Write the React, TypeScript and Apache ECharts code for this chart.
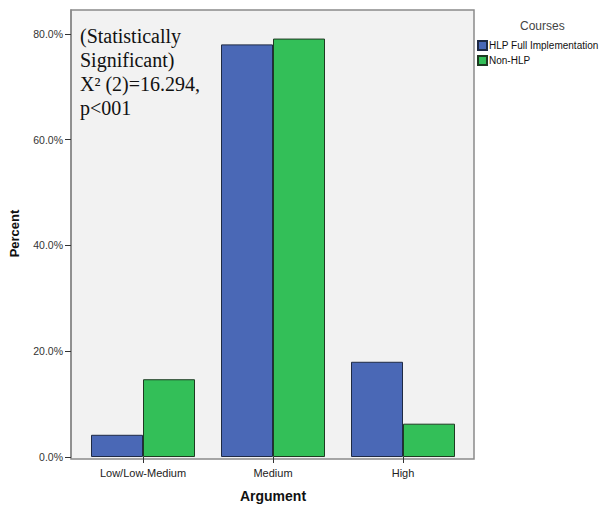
import React, { useEffect, useRef } from "react";
import * as echarts from "echarts";

const categories = ["Low/Low-Medium", "Medium", "High"];
const hlpFull = [4.2, 78.0, 18.0];
const nonHlp = [14.7, 79.1, 6.3];
const seriesNames = ["HLP Full Implementation", "Non-HLP"];
const annotationLines = ["(Statistically", "Significant)", "X² (2)=16.294,", "p<001"];

export default function App() {
  const ref = useRef<HTMLDivElement>(null);
  useEffect(() => {
    if (!ref.current) return;
    const chart = echarts.init(ref.current, null, { renderer: "svg" });
    const font = "Arial, 'Liberation Sans', sans-serif";
    chart.setOption({
      animation: false,
      backgroundColor: "#ffffff",
      textStyle: { fontFamily: font },
      title: {
        text: "Courses",
        left: 515,
        top: 15,
        textStyle: { fontSize: 12, fontWeight: "normal", color: "#444", fontFamily: font },
      },
      legend: {
        orient: "vertical",
        left: 472,
        top: 35,
        itemWidth: 9,
        itemHeight: 9,
        itemGap: 4,
        icon: "rect",
        textStyle: { fontSize: 10, color: "#111", fontFamily: font, padding: [0, 0, 0, -3] },
        data: seriesNames,
      },
      grid: { left: 78, right: 137, top: 10, bottom: 49, containLabel: false },
      graphic: [
        {
          type: "rect",
          shape: { x: 71, y: 10, width: 403, height: 449 },
          style: { fill: "#f2f2f2", stroke: "#8a8a8a", lineWidth: 1.5 },
          z: -10,
          silent: true,
        },
        {
          type: "text",
          left: 80,
          top: 24,
          z: 10,
          style: {
            text: annotationLines.join("\n"),
            font: "20px 'Liberation Serif', 'Times New Roman', serif",
            fill: "#111",
            lineHeight: 24,
          },
        },
      ],
      xAxis: {
        type: "category",
        data: categories,
        axisLine: { show: false },
        axisTick: { show: true, alignWithLabel: true, length: 6, lineStyle: { color: "#333" }, inside: false },
        axisLabel: { fontSize: 11, color: "#222", margin: 10, fontFamily: font },
        name: "Argument",
        nameLocation: "middle",
        nameGap: 32,
        nameTextStyle: { fontSize: 14, fontWeight: "bold", color: "#111", fontFamily: font },
      },
      yAxis: {
        type: "value",
        min: 0,
        max: 84.5,
        interval: 20,
        offset: 7,
        axisLine: { show: true, lineStyle: { color: "#8a8a8a", width: 1.5 } },
        axisTick: { show: true, length: 6, lineStyle: { color: "#333" } },
        splitLine: { show: false },
        axisLabel: {
          fontSize: 10.5,
          color: "#333",
          margin: 8,
          showMaxLabel: false,
          formatter: (v: number) => v.toFixed(1) + "%",
          fontFamily: font,
        },
        name: "Percent",
        nameLocation: "middle",
        nameGap: 50,
        nameTextStyle: { fontSize: 13, fontWeight: "bold", color: "#111", fontFamily: font },
      },
      series: [
        {
          name: seriesNames[0],
          type: "bar",
          data: hlpFull,
          barGap: "0%",
          barCategoryGap: "20%",
          itemStyle: { color: "#4a68b6", borderColor: "#1f2a44", borderWidth: 1 },
        },
        {
          name: seriesNames[1],
          type: "bar",
          data: nonHlp,
          barGap: "0%",
          barCategoryGap: "20%",
          itemStyle: { color: "#33bf58", borderColor: "#1f3a22", borderWidth: 1 },
        },
      ],
    });
    return () => chart.dispose();
  }, []);
  return <div ref={ref} style={{ width: 605, height: 508, position: "absolute", left: 0, top: 0 }} />;
}
